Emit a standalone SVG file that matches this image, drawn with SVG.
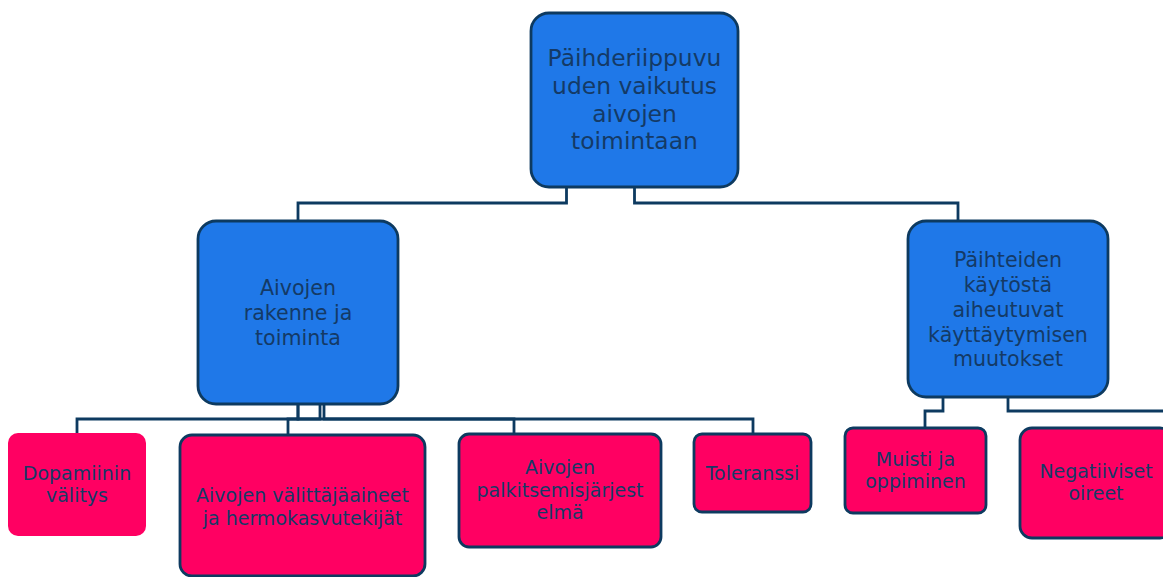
<svg xmlns="http://www.w3.org/2000/svg" width="1163" height="577" viewBox="0 0 1163 577">
<style>
.blue{fill:#1f78e8;stroke:#0d3a60;stroke-width:2.8}
.pink{fill:#ff0062;stroke:#0d3a60;stroke-width:2.8}
.pinkns{fill:#ff0062;stroke:none}
.t{font-family:"DejaVu Sans",sans-serif;fill:#143a66;text-anchor:middle}
.t1{font-size:23.4px}
.t2{font-size:20.6px}
.t3{font-size:19px}
.c{fill:none;stroke:#0d3a60;stroke-width:2.8}
</style>
<rect width="1163" height="577" fill="#ffffff"/>
<g id="connectors">
<path class="c" d="M566.5,187 V203 H298 V221"/>
<path class="c" d="M634.5,187 V203 H958 V221"/>
<path class="c" d="M298,404 V419 H77 V433"/>
<path class="c" d="M320,404 V419 H288 V435"/>
<path class="c" d="M324,404 V419 H514 V434"/>
<path class="c" d="M298,404 V419 H753 V434"/>
<path class="c" d="M943,397 V411 H925 V428"/>
<path class="c" d="M1008,397 V411 H1165"/>
</g>
<g id="root">
<rect class="blue" x="531" y="13" width="207" height="174" rx="18"/>
<text class="t t1"><tspan x="634.5" y="66">Päihderiippuvu</tspan><tspan x="634.5" y="94">uden vaikutus</tspan><tspan x="634.5" y="122">aivojen</tspan><tspan x="634.5" y="149">toimintaan</tspan></text>
</g>
<g id="aivojen-rakenne">
<rect class="blue" x="198" y="221" width="200" height="183" rx="18"/>
<text class="t t2"><tspan x="298" y="295">Aivojen</tspan><tspan x="298" y="320">rakenne ja</tspan><tspan x="298" y="345">toiminta</tspan></text>
</g>
<g id="kayttaytyminen">
<rect class="blue" x="908" y="221" width="200" height="176" rx="18"/>
<text class="t t2"><tspan x="1008" y="267">Päihteiden</tspan><tspan x="1008" y="292">käytöstä</tspan><tspan x="1008" y="317">aiheutuvat</tspan><tspan x="1008" y="342">käyttäytymisen</tspan><tspan x="1008" y="366">muutokset</tspan></text>
</g>
<g id="dopamiini">
<rect class="pinkns" x="8" y="433" width="138" height="103" rx="10"/>
<text class="t t3"><tspan x="77" y="480">Dopamiinin</tspan><tspan x="77" y="502">välitys</tspan></text>
</g>
<g id="valittajaaineet">
<rect class="pink" x="180" y="435" width="245" height="141" rx="12"/>
<text class="t t3"><tspan x="302.5" y="502">Aivojen välittäjäaineet</tspan><tspan x="302.5" y="525">ja hermokasvutekijät</tspan></text>
</g>
<g id="palkitsemis">
<rect class="pink" x="459" y="434" width="202" height="113" rx="10"/>
<text class="t t3"><tspan x="560" y="474">Aivojen</tspan><tspan x="560" y="497">palkitsemisjärjest</tspan><tspan x="560" y="519">elmä</tspan></text>
</g>
<g id="toleranssi">
<rect class="pink" x="694" y="434" width="117" height="78" rx="8"/>
<text class="t t3"><tspan x="752.5" y="480">Toleranssi</tspan></text>
</g>
<g id="muisti">
<rect class="pink" x="845" y="428" width="141" height="85" rx="8"/>
<text class="t t3"><tspan x="915.5" y="466">Muisti ja</tspan><tspan x="915.5" y="488">oppiminen</tspan></text>
</g>
<g id="negatiiviset">
<rect class="pink" x="1020" y="428" width="152" height="110" rx="12"/>
<text class="t t3"><tspan x="1096" y="478">Negatiiviset</tspan><tspan x="1096" y="500">oireet</tspan></text>
</g>
</svg>
